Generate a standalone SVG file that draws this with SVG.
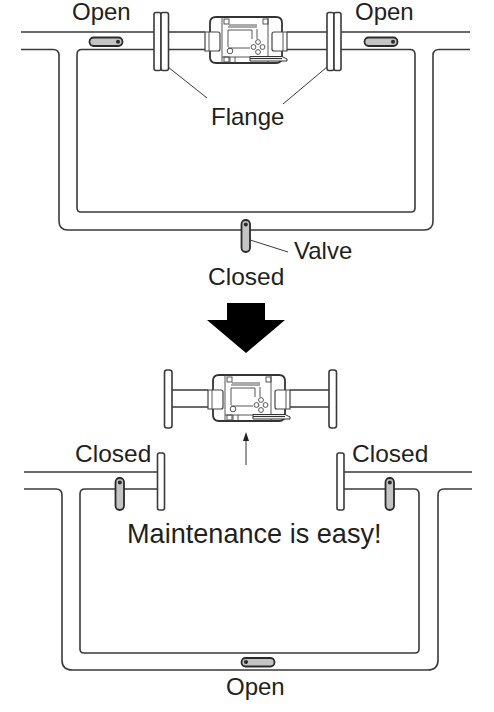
<svg xmlns="http://www.w3.org/2000/svg" width="494" height="712" viewBox="0 0 494 712">
<style>
text{font-family:"Liberation Sans",Arial,sans-serif;font-size:24px;fill:#231f20}
.p{fill:none;stroke:#3a3a3a;stroke-width:1.6;stroke-linejoin:round}
.t{fill:none;stroke:#3a3a3a;stroke-width:1}
.f{fill:#fff;stroke:#3a3a3a;stroke-width:1.6}
.v{fill:#c4c4c4;stroke:#2a2a2a;stroke-width:1.8}
.d{fill:#2a2a2a}
.b{fill:#fff;stroke:#333;stroke-width:1.8}
.m{fill:none;stroke:#444;stroke-width:.9}
</style>
<defs>
<g id="meter">
<path class="b" d="M6 0H66Q72 0 72 6V40Q72 46 66 46H6Q0 46 0 40V6Q0 0 6 0Z"/>
<path class="m" d="M12 0V46M58 0V46M12 40H58"/>
<path d="M-5 15H8Q10 15 10 17V32Q10 34 8 34H-5ZM77 15H64Q62 15 62 17V32Q62 34 64 34H77Z" fill="#fff" stroke="#444" stroke-width="1.200"/>
<path class="m" d="M-1 15V34M73 15V34"/>
<rect class="m" x="14" y="2" width="5" height="5"/>
<rect class="m" x="53" y="2" width="5" height="5"/>
<rect class="m" x="14" y="40" width="5" height="5"/>
<path class="m" d="M19 8H47M18 10H47M18 13H42V22M18 13V30M18 31H40M47 12V22M20 40V46M25 40V46" stroke-dasharray="none"/>
<circle class="m" cx="20" cy="34" r="2.800"/>
<circle class="m" cx="48" cy="25" r="2.400"/>
<circle class="m" cx="48" cy="35" r="2.400"/>
<circle class="m" cx="43.500" cy="30" r="2.400"/>
<circle class="m" cx="52.500" cy="30" r="2.400"/>
<path d="M40 39.500H72L77 42V44H40Z" fill="#fff" stroke="#333" stroke-width="1"/>
<path d="M40 41.500H72" stroke="#333" stroke-width="1.200"/>
</g>
</defs>
<g id="connectors">
<path class="p" d="M21 32H154M168 32H205M287 32H327M341 32H470"/>
<path class="p" d="M168 49.500H205M287 49.500H327"/>
<path class="p" d="M21 49.500H53Q59 49.500 59 55.500V221Q59 230 68 230H424Q433 230 433 221V55.500Q433 49.500 439 49.500H470"/>
<path class="p" d="M154 49.500H82Q77 49.500 77 54.500V208Q77 212 81 212H411Q415 212 415 208V54.500Q415 49.500 410 49.500H341"/>
<path class="t" d="M168 67L207 98M327 67L283 104M247 239L288 252"/>
<path class="p" d="M172 390H208M172 407H208M290 390H329M290 407H329"/>
<path class="p" d="M24 472H157M344 472H472"/>
<path class="p" d="M24 489H56Q62 489 62 495V660Q62 670 72 670H428Q438 670 438 660V495Q438 489 444 489H472"/>
<path class="p" d="M157 489H85Q80 489 80 494V649Q80 653 84 653H415Q419 653 419 649V494Q419 489 414 489H344"/>
<path d="M246 465V440" fill="none" stroke="#333" stroke-width="1"/>
<path d="M246 432L249 441H243Z" fill="#222"/>
</g>
<g id="flange-top-left"><rect class="f" x="154" y="12.500" width="7" height="58" rx="2"/><rect class="f" x="161" y="12.500" width="7.500" height="58" rx="2"/></g>
<g id="flange-top-right"><rect class="f" x="327" y="12.500" width="7" height="58" rx="2"/><rect class="f" x="334" y="12.500" width="7" height="58" rx="2"/></g>
<g id="meter-top"><use href="#meter" x="210" y="17"/></g>
<g id="valve-top-left"><rect class="v" x="89.500" y="37.500" width="33" height="8.500" rx="4.200"/><circle class="d" cx="118" cy="41.700" r="2"/></g>
<g id="valve-top-right"><rect class="v" x="364.500" y="37.500" width="33" height="8.500" rx="4.200"/><circle class="d" cx="393" cy="41.700" r="2"/></g>
<g id="valve-top-bottom"><rect class="v" x="241.500" y="220" width="8.500" height="32" rx="4.200"/><circle class="d" cx="245.800" cy="224.500" r="2"/></g>
<g id="big-arrow"><path d="M227 303H265V320H285L246 353L207 320H227Z" fill="#000"/></g>
<g id="flange-bottom-left"><rect class="f" x="164.500" y="370" width="7.500" height="58" rx="2.500"/></g>
<g id="flange-bottom-right"><rect class="f" x="329" y="370" width="7.500" height="58" rx="2.500"/></g>
<g id="meter-bottom"><use href="#meter" x="213" y="375"/></g>
<g id="flange-lower-left"><rect class="f" x="157.500" y="453" width="7" height="57" rx="2"/></g>
<g id="flange-lower-right"><rect class="f" x="337" y="453" width="7" height="57" rx="2"/></g>
<g id="valve-lower-left"><rect class="v" x="115.500" y="478" width="8.500" height="32" rx="4.200"/><circle class="d" cx="119.800" cy="482.500" r="2"/></g>
<g id="valve-lower-right"><rect class="v" x="385.500" y="478" width="8.500" height="32" rx="4.200"/><circle class="d" cx="389.800" cy="482.500" r="2"/></g>
<g id="valve-lower-bottom"><rect class="v" x="241.500" y="658" width="33" height="8.500" rx="4.200"/><circle class="d" cx="246" cy="662" r="2"/></g>
<g id="labels">
<text x="72" y="20">Open</text>
<text x="355" y="20">Open</text>
<text x="211" y="125">Flange</text>
<text x="294" y="259">Valve</text>
<text x="208" y="285" style="font-size:24.500px">Closed</text>
<text x="75" y="462" style="font-size:24.500px">Closed</text>
<text x="352" y="462" style="font-size:24.500px">Closed</text>
<text x="127" y="543" style="font-size:27.100px">Maintenance is easy!</text>
<text x="226" y="695">Open</text>
</g>
</svg>
